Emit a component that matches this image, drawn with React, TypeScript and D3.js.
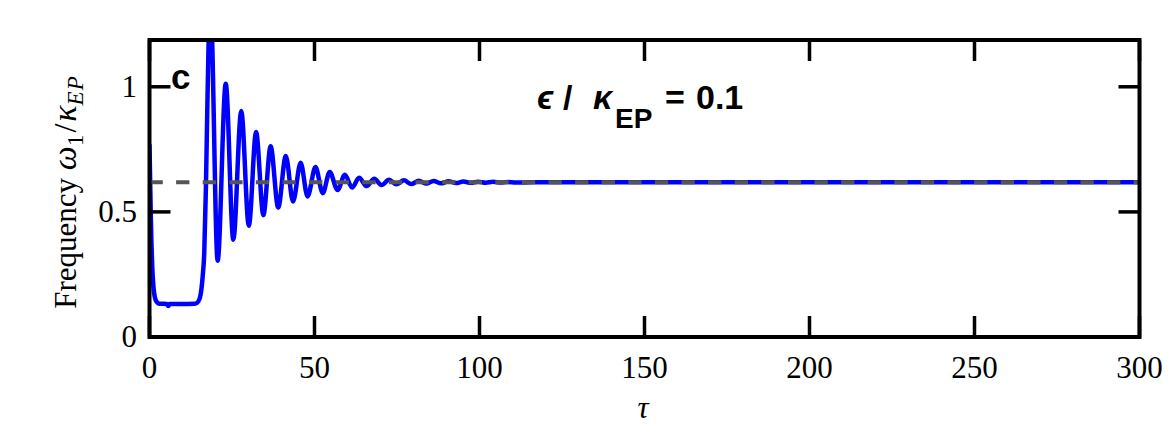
import React from 'react';
import * as d3 from 'd3';

// transient: fast drop, plateau, then the first big overshoot
const transientTau = [0, 0.2, 0.4, 0.6, 0.85, 1.2, 1.6, 2.2, 3, 5.3, 5.7, 6.1, 9, 13.8, 14.8, 15.5, 16.1, 16.6, 17.1, 17.5, 17.9, 18.5];
const transientFreq = [0.77, 0.62, 0.48, 0.37, 0.275, 0.2, 0.16, 0.14, 0.133, 0.132, 0.124, 0.132, 0.132, 0.133, 0.142, 0.17, 0.24, 0.34, 0.6, 0.9, 1.17, 1.32];

// ringdown: troughs and peaks
const ringTau = [20.65, 23.1, 25.4, 27.8, 30.1, 32.3, 34.5, 36.7, 39.0, 41.3, 43.5, 45.8, 47.9, 50.3, 52.5, 54.6, 57.0, 59.2, 61.4, 63.5, 65.8, 68.1, 70.3, 72.6, 74.8, 77.1, 79.3, 81.6, 83.9, 86.1, 88.4, 90.6, 92.9, 95.1, 97.4, 99.6, 101.9, 104.1, 106.4, 108.6, 111, 116, 300];
const ringFreq = [0.305, 1.012, 0.389, 0.903, 0.445, 0.819, 0.487, 0.762, 0.518, 0.723, 0.542, 0.696, 0.562, 0.679, 0.575, 0.659, 0.588, 0.648, 0.597, 0.636, 0.603, 0.632, 0.607, 0.628, 0.61, 0.626, 0.611, 0.624, 0.613, 0.623, 0.614, 0.622, 0.615, 0.621, 0.616, 0.6205, 0.6165, 0.62, 0.617, 0.619, 0.6175, 0.618, 0.618];

const steadyFreq = 0.618;

const xTicks = [0, 50, 100, 150, 200, 250, 300];
const yTicks = [0, 0.5, 1];
const yTickLabels = ['0', '0.5', '1'];

const W = 1172;
const H = 433;
const left = 149.5, right = 1139.5, top = 40, bottom = 337;
const TICK = 21;

export default function App() {
  const x = d3.scaleLinear().domain([0, 300]).range([left, right]);
  const y = d3.scaleLinear().domain([0, 1.187]).range([bottom, top]);

  const pts: [number, number][] = [];
  transientTau.forEach((t, i) => pts.push([t, transientFreq[i]]));
  ringTau.forEach((t, i) => pts.push([t, ringFreq[i]]));

  const line = d3.line<[number, number]>()
    .x(d => x(d[0]))
    .y(d => y(d[1]))
    .curve(d3.curveMonotoneX);

  const serif = '"Liberation Serif", "DejaVu Serif", serif';
  const sans = '"Liberation Sans", Arial, "DejaVu Sans", sans-serif';

  return (
    <svg width={W} height={H} style={{ position: 'absolute', left: 0, top: 0, background: '#fff' }}>
      <defs>
        <clipPath id="plotClip">
          <rect x={left} y={top} width={right - left} height={bottom - top} />
        </clipPath>
      </defs>

      <g clipPath="url(#plotClip)">
        <path d={line(pts) || ''} fill="none" stroke="#0000ff" strokeWidth={4.5} strokeLinejoin="round" />
        <line x1={left} x2={right} y1={y(steadyFreq)} y2={y(steadyFreq)}
          stroke="#555555" strokeWidth={4} strokeDasharray="13.3 13.3" />
      </g>

      {/* ticks, mirrored on all four sides, pointing in */}
      {xTicks.map(t => (
        <g key={'x' + t}>
          <line x1={x(t)} x2={x(t)} y1={bottom} y2={bottom - TICK} stroke="#000" strokeWidth={3.5} />
          <line x1={x(t)} x2={x(t)} y1={top} y2={top + TICK} stroke="#000" strokeWidth={3.5} />
          <text x={x(t)} y={378} textAnchor="middle" fontFamily={serif} fontSize={31}>{t}</text>
        </g>
      ))}
      {yTicks.map((v, i) => (
        <g key={'y' + v}>
          <line x1={left} x2={left + TICK} y1={y(v)} y2={y(v)} stroke="#000" strokeWidth={3.5} />
          <line x1={right} x2={right - TICK} y1={y(v)} y2={y(v)} stroke="#000" strokeWidth={3.5} />
          <text x={137} y={y(v)} dy="0.33em" textAnchor="end" fontFamily={serif} fontSize={31}>{yTickLabels[i]}</text>
        </g>
      ))}

      <rect x={left} y={top} width={right - left} height={bottom - top} fill="none" stroke="#000" strokeWidth={4} />

      {/* axis labels */}
      <text x={643} y={418} textAnchor="middle" fontFamily={serif} fontStyle="italic" fontSize={31}>τ</text>
      <text transform="translate(76,192) rotate(-90)" textAnchor="middle" fontFamily={serif} fontSize={31}>
        Frequency <tspan fontStyle="italic" fontSize={34}>ω</tspan>
        <tspan fontSize={23} dy={7}>1</tspan>
        <tspan dy={-7} fontSize={32} dx={2}>/</tspan>
        <tspan fontStyle="italic" fontSize={34} dx={2}>κ</tspan>
        <tspan fontSize={23} dy={7} fontStyle="italic" letterSpacing={1}>EP</tspan>
      </text>

      {/* panel letter and annotation */}
      <text x={171} y={89} fontFamily={sans} fontWeight="bold" fontSize={35}>c</text>
      <g fontFamily={sans} fontWeight="bold">
        <text x={537} y={109} fontSize={34} fontStyle="italic">ϵ</text>
        <text x={563} y={109} fontSize={34}>/</text>
        <text x={593} y={109} fontSize={34} fontStyle="italic">κ</text>
        <text x={615} y={128} fontSize={28}>EP</text>
        <text x={665} y={109} fontSize={34}>=</text>
        <text x={696} y={109} fontSize={34}>0.1</text>
      </g>
    </svg>
  );
}
